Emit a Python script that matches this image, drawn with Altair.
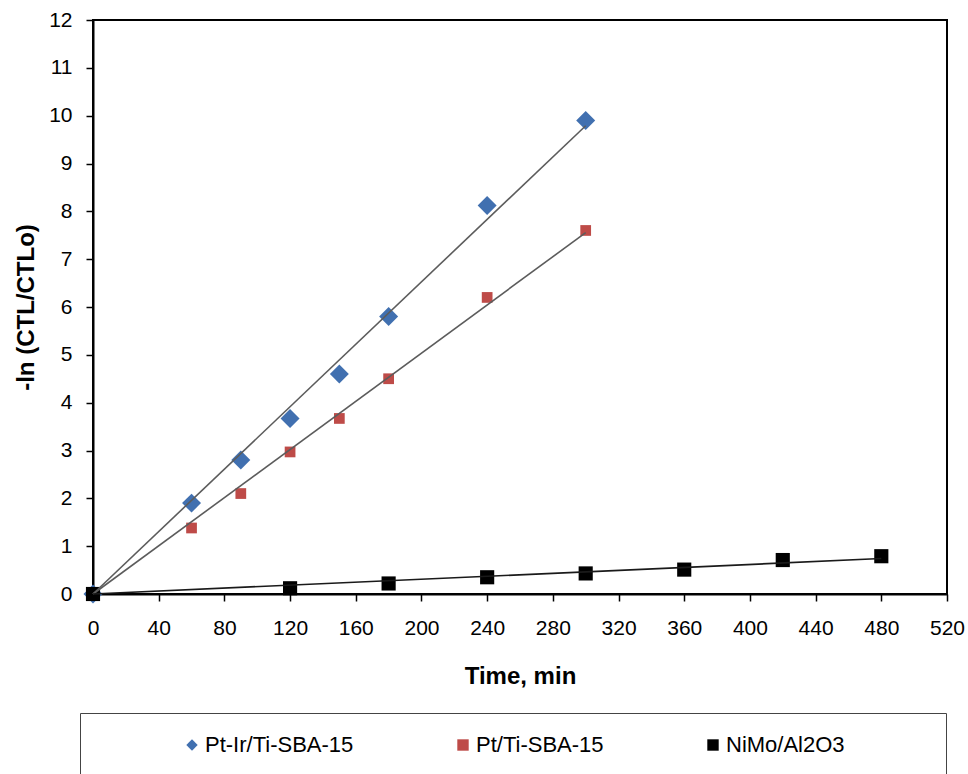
import altair as alt
import numpy as np
import pandas as pd

SERIES = ["Pt-Ir/Ti-SBA-15", "Pt/Ti-SBA-15", "NiMo/Al2O3"]
COLORS = ["#4170B0", "#BE4B48", "#000000"]
SHAPES = ["diamond", "square", "square"]
SIZES = [360, 115, 200]

time_ptir = [0, 60, 90, 120, 150, 180, 240, 300]
val_ptir = [0, 1.90, 2.80, 3.67, 4.60, 5.80, 8.12, 9.90]

time_pt = [0, 60, 90, 120, 150, 180, 240, 300]
val_pt = [0, 1.38, 2.10, 2.97, 3.67, 4.50, 6.20, 7.60]

time_nimo = [0, 120, 180, 240, 300, 360, 420, 480]
val_nimo = [0, 0.12, 0.22, 0.35, 0.43, 0.51, 0.71, 0.79]

X_TICKS = list(range(0, 521, 40))
Y_TICKS = list(range(0, 13))

series_data = [(time_ptir, val_ptir), (time_pt, val_pt), (time_nimo, val_nimo)]

rows = []
line_rows = []
for name, (t, v) in zip(SERIES, series_data):
    for ti, vi in zip(t, v):
        rows.append({"time": ti, "value": vi, "series": name})
    ta = np.array(t, dtype=float)
    va = np.array(v, dtype=float)
    slope = float((ta * va).sum() / (ta * ta).sum())  # linear trend through origin
    line_rows.append({"time": 0.0, "value": 0.0, "series": name})
    line_rows.append({"time": float(ta.max()), "value": slope * float(ta.max()), "series": name})

pts = pd.DataFrame(rows)
lines = pd.DataFrame(line_rows)

x_enc = alt.X("time:Q", scale=alt.Scale(domain=[0, 520], nice=False),
              axis=alt.Axis(values=X_TICKS, title="Time, min", labelPadding=16,
                            titlePadding=26, labelFlush=False, labelOverlap=False))
y_enc = alt.Y("value:Q", scale=alt.Scale(domain=[0, 12], nice=False),
              axis=alt.Axis(values=Y_TICKS, title="-ln (CTL/CTLo)", labelPadding=14,
                            titlePadding=10, labelFlush=False, labelOverlap=False))

last_label_pad = "\u2800" * 5
legend = alt.Legend(
    orient="none", legendX=-13, legendY=693, direction="horizontal",
    title=" ", titleOrient="left", titlePadding=80, titleFontSize=12,
    padding=21, strokeColor="#444444", columnPadding=98,
    labelFontSize=22, labelOffset=2, symbolSize=130, labelLimit=400,
    symbolStrokeWidth=0, labelColor="#000000",
    labelExpr="datum.label == 'NiMo/Al2O3' ? datum.label + '" + last_label_pad + "' : datum.label",
)

color = alt.Color("series:N", scale=alt.Scale(domain=SERIES, range=COLORS), legend=legend)
shape = alt.Shape("series:N", scale=alt.Scale(domain=SERIES, range=SHAPES), legend=legend)

layers = []
for name, sz in zip(SERIES, SIZES):
    layers.append(
        alt.Chart(pts).transform_filter(alt.datum.series == name)
        .mark_point(filled=True, size=sz, opacity=1)
        .encode(x=x_enc, y=y_enc, color=color, shape=shape)
    )

trend = alt.Chart(lines).mark_line(strokeWidth=1.6).encode(
    x=x_enc, y=y_enc, detail="series:N",
    stroke=alt.Stroke("series:N", scale=alt.Scale(domain=SERIES,
                      range=["#5c5c5c", "#5c5c5c", "#1a1a1a"]), legend=None),
)
layers.append(trend)

chart = alt.layer(*layers).properties(
    width=854, height=574,
    autosize=alt.AutoSizeParams(type="none"),
    padding={"left": 93, "top": 20, "right": 21, "bottom": 180},
    background="white",
).configure(font="Liberation Sans").configure_view(
    stroke="#000000", strokeWidth=2
).configure_axis(
    grid=False, domainColor="#000000", domainWidth=2, tickColor="#000000",
    tickWidth=1.5, tickSize=7, labelFontSize=21, labelColor="#000000",
    titleFontSize=24, titleFontWeight="bold", titleColor="#000000",
    labelFont="Liberation Sans", titleFont="Liberation Sans",
)

chart.save("out.html", embed_options={"renderer": "svg", "actions": False})
